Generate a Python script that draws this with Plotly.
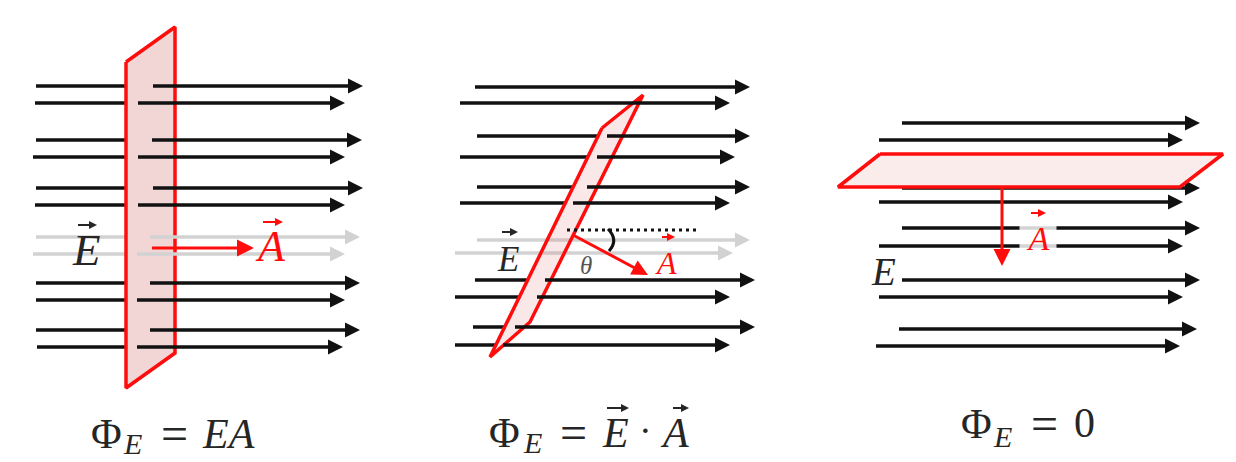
import plotly.graph_objects as go

# ---------------- data (pixel geometry of the diagram) ----------------
# Panel 1: plane perpendicular to field
P1_Y = [86, 103, 140, 157, 188, 205, 237, 254, 283, 300, 330, 347]
P1_START = [36, 35, 36, 33, 36, 35, 36, 33, 36, 36, 36, 37]
P1_END = [363, 345, 362, 345, 363, 345, 360, 345, 360, 345, 360, 343]
P1_RIGHT = [153, 138, 152, 138, 153, 138, 150, 137, 150, 137, 150, 137]
P1_GRAY = [False, False, False, False, False, False, True, True, False, False, False, False]
P1_PLANE_X = [126, 175, 175, 126]
P1_PLANE_Y = [62, 27, 353, 388]

# Panel 2: tilted plane
P2_Y = [87, 103, 136, 157, 187, 203, 240, 253, 280, 297, 327, 345]
P2_START = [475, 460, 477, 460, 477, 460, 477, 455, 475, 455, 473, 455]
P2_END = [750, 730, 750, 735, 750, 730, 750, 733, 755, 730, 755, 730]
P2_RIGHT = [None, None, 607, 597, 587, 573, None, None, 545, 537, 515, 503]
P2_GRAY = [False, False, False, False, False, False, True, True, False, False, False, False]
P2_PLANE_X = [602, 643, 530, 490]
P2_PLANE_Y = [128, 95, 322, 357]

# Panel 3: plane parallel to field
P3_Y = [123, 140, 188, 202, 228, 246, 280, 297, 329, 346]
P3_START = [902, 879, 902, 879, 902, 879, 902, 879, 899, 876]
P3_END = [1200, 1183, 1200, 1183, 1200, 1183, 1200, 1183, 1197, 1180]
P3_BEHIND = [False, False, True, False, False, False, False, False, False, False]
P3_PLANE_X = [880, 1223, 1180, 838]
P3_PLANE_Y = [154, 154, 187, 187]

FORMULAS = ["Φ", "E", "=", "EA", "E", "A", "0"]

BLACK = "#111111"
GRAY = "#d2d2d2"
RED = "#ff0d0d"
TXT = "#262626"
LW = 3.5
HEAD = 15

fig = go.Figure()


def lines(segs, color, width, dash=None):
    xs, ys = [], []
    for x0, x1, y0, y1 in segs:
        xs += [x0, x1, None]
        ys += [y0, y1, None]
    fig.add_trace(go.Scatter(x=xs, y=ys, mode="lines", hoverinfo="skip",
                             line=dict(color=color, width=width, dash=dash)))


def heads(pts, color, size, symbol="arrow-right", angle=0):
    if not pts:
        return
    fig.add_trace(go.Scatter(x=[p[0] for p in pts], y=[p[1] for p in pts], mode="markers",
                             hoverinfo="skip",
                             marker=dict(symbol=symbol, size=size, color=color, angle=angle,
                                         line=dict(width=0))))


def plane(px, py, fill):
    fig.add_trace(go.Scatter(x=px + [px[0]], y=py + [py[0]], mode="lines", fill="toself",
                             fillcolor=fill, hoverinfo="skip",
                             line=dict(color=RED, width=3.5)))


def edge_x(px, py, i, j, y):
    return px[i] + (y - py[i]) * (px[j] - px[i]) / (py[j] - py[i])


# ---------------- panel 1 ----------------
below, above = {BLACK: [], GRAY: []}, {BLACK: [], GRAY: []}
hd = {BLACK: [], GRAY: []}
for y, s, e, r, g in zip(P1_Y, P1_START, P1_END, P1_RIGHT, P1_GRAY):
    c = GRAY if g else BLACK
    below[c].append((s, P1_PLANE_X[0] + 1, y, y))
    above[c].append((r, e - HEAD * 0.6, y, y))
    hd[c].append((e, y))
lines(below[GRAY], GRAY, LW)
lines(below[BLACK], BLACK, LW)
plane(P1_PLANE_X, P1_PLANE_Y, "rgba(205,90,90,0.25)")
lines(above[GRAY], GRAY, LW)
heads(hd[GRAY], GRAY, HEAD)
lines(above[BLACK], BLACK, LW)
heads(hd[BLACK], BLACK, HEAD)
# area vector A
lines([(152, 240, 248, 248)], RED, 3)
heads([(254, 248)], RED, 17)

# ---------------- panel 2 ----------------
below, above = {BLACK: [], GRAY: []}, {BLACK: [], GRAY: []}
hd = {BLACK: [], GRAY: []}
for y, s, e, r, g in zip(P2_Y, P2_START, P2_END, P2_RIGHT, P2_GRAY):
    c = GRAY if g else BLACK
    if g:
        below[c].append((s, e - HEAD * 0.6, y, y))
        hd[c].append((e, y))
        continue
    if r is None:
        if y < min(P2_PLANE_Y):
            below[c].append((s, e - HEAD * 0.6, y, y))
        else:
            above[c].append((s, e - HEAD * 0.6, y, y))
    else:
        xl = edge_x(P2_PLANE_X, P2_PLANE_Y, 0, 3, y)
        below[c].append((s, xl + 1, y, y))
        above[c].append((r, e - HEAD * 0.6, y, y))
    hd[c].append((e, y))
lines(below[GRAY], GRAY, LW)
heads(hd[GRAY], GRAY, HEAD)
lines(below[BLACK], BLACK, LW)
plane(P2_PLANE_X, P2_PLANE_Y, "rgba(225,110,110,0.16)")
lines(above[BLACK], BLACK, LW)
heads(hd[BLACK], BLACK, HEAD)
# dotted reference line
lines([(567, 697, 230, 230)], BLACK, 3, dash="3px,4px")
# tilted area vector
lines([(573, 639, 235, 270.2)], RED, 3)
heads([(648, 275)], RED, 16, symbol="arrow-up", angle=118)

# ---------------- panel 3 ----------------
below, above, hd = [], [], []
for y, s, e, b in zip(P3_Y, P3_START, P3_END, P3_BEHIND):
    (below if b else above).append((s, e - HEAD * 0.6, y, y))
    hd.append((e, y))
lines(below, BLACK, LW)
heads([p for p, b in zip(hd, P3_BEHIND) if b], BLACK, HEAD)
plane(P3_PLANE_X, P3_PLANE_Y, "rgba(235,170,170,0.22)")
lines(above, BLACK, LW)
heads([p for p, b in zip(hd, P3_BEHIND) if not b], BLACK, HEAD)
lines([(1002, 1002, 187, 256)], RED, 3)
heads([(1002, 266)], RED, 17, symbol="arrow-down")

# small vector arrows over letters
small = [(78, 97, 225, TXT), (263, 283, 222, RED), (502, 518, 232, TXT), (662, 675, 237, RED),
         (1031, 1046, 213, RED), (607, 629, 408, TXT), (673, 689, 408, TXT)]
for x0, x1, y, c in small:
    lines([(x0, x1 - 3, y, y)], c, 2)
    heads([(x1, y)], c, 8)

# angle arc
fig.add_shape(type="path", path="M 608,229 Q 619,240 609,251",
              line=dict(color=BLACK, width=3), layer="above")

# ---------------- text ----------------
SERIF = "Liberation Serif"


def label(x, y, text, size, color=TXT, **kw):
    fig.add_annotation(x=x, y=y, xref="x", yref="y", text=text, showarrow=False,
                       font=dict(family=SERIF, size=size, color=color),
                       xanchor="center", yanchor="middle", **kw)


label(86, 250, "<i>E</i>", 45)
label(270, 246, "<i>A</i>", 44, RED)
label(508, 259, "<i>E</i>", 35)
label(666, 263, "<i>A</i>", 32, RED)
label(586, 265, "<i>θ</i>", 25, "#555555")
label(1038, 238, "<i>A</i>", 34, RED, bgcolor="rgba(255,255,255,0.82)", width=34, height=27)
label(883, 271, "<i>E</i>", 39)

# formulas
for (xp, yp), (xs, ys), xe in [((106, 434), (132, 443), 174),
                               ((504, 433), (532, 442), 573),
                               ((976, 424), (1002, 436), 1044)]:
    label(xp, yp, FORMULAS[0], 42)
    label(xs, ys, "<i>" + FORMULAS[1] + "</i>", 30)
    label(xe, yp - 1, FORMULAS[2], 48)
label(228, 434, "<i>" + FORMULAS[3] + "</i>", 42)
label(615, 433, "<i>" + FORMULAS[4] + "</i>", 42)
label(645, 430, "·", 38)
label(674, 433, "<i>" + FORMULAS[5] + "</i>", 42)
label(1084, 423, FORMULAS[6], 42)

fig.update_layout(width=1236, height=462, margin=dict(l=0, r=0, t=0, b=0),
                  paper_bgcolor="white", plot_bgcolor="white", showlegend=False,
                  xaxis=dict(range=[0, 1236], visible=False, fixedrange=True),
                  yaxis=dict(range=[462, 0], visible=False, fixedrange=True))

fig.write_html("out.html", config={"displayModeBar": False},
               post_script="document.body.style.margin='0';document.body.style.overflow='hidden';")
